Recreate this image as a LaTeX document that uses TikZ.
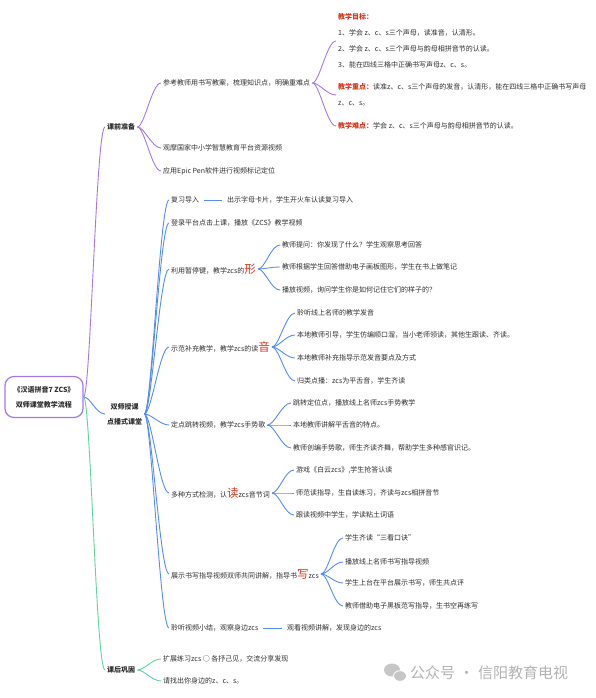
\documentclass[tikz,border=0pt]{standalone}
\usepackage{fontspec}
\setmainfont{Noto Sans CJK SC}
\definecolor{mindpurple}{RGB}{165,120,230}
\definecolor{mindblue}{RGB}{85,140,240}
\definecolor{mindgreen}{RGB}{95,210,160}
\definecolor{mindred}{RGB}{210,55,30}
\definecolor{mindtext}{RGB}{45,45,45}
\newcommand{\keychar}[1]{\textcolor{mindred}{\fontsize{11.5}{12}\selectfont #1}}
\newcommand{\redhead}[1]{\textcolor{mindred}{\bfseries #1}}
\tikzset{
  rootbox/.style={draw=mindpurple, line width=1.2pt, rounded corners=9pt,
    minimum width=78pt, minimum height=41pt, align=center, text=mindtext,
    font=\bfseries\fontsize{7}{15}\selectfont},
  topic/.style={anchor=west, inner sep=2pt, align=center, text=mindtext,
    font=\bfseries\fontsize{7}{15}\selectfont},
  leaf/.style={anchor=west, inner sep=2pt, text=mindtext, font=\fontsize{7}{8}\selectfont},
  leafblock/.style={leaf, align=left, font=\fontsize{7}{16}\selectfont},
  branch/.style={to path={.. controls +(7,0) and +(-9,0) .. (\tikztotarget)}},
  link/.style={shorten <=3pt, shorten >=3pt},
  purpleline/.style={draw=mindpurple, line width=0.9pt},
  blueline/.style={draw=mindblue, line width=0.9pt},
  greenline/.style={draw=mindgreen, line width=0.9pt}
}
\begin{document}
\begin{tikzpicture}[x=1pt,y=-1pt]
\useasboundingbox (0,0) rectangle (596,698);

% root and main topics
\node(root) at (44,397)[rootbox] {《汉语拼音7 ZCS》\\双师课堂教学流程};
\node(prep) at (105,127)[topic] {课前准备};
\node(dual) at (105,414)[topic] {双师授课\\点播式课堂};
\node(post) at (105,670)[topic] {课后巩固};

% before class
\node(ref) at (161,83)[leaf] {参考教师用书写教案，梳理知识点，明确重难点};
\node(observe) at (161,148)[leaf] {观摩国家中小学智慧教育平台资源视频};
\node(epic) at (161,171)[leaf] {应用Epic Pen软件进行视频标记定位};
\node(goal) at (336,41)[leafblock] {\redhead{教学目标：}\\1、学会 z、c、s三个声母，读准音，认清形。\\2、学会 z、c、s三个声母与韵母相拼音节的认读。\\3、能在四线三格中正确书写声母z、c、s。};
\node(focus) at (336,95)[leafblock] {\redhead{教学重点：}读准z、c、s三个声母的发音，认清形，能在四线三格中正确书写声母\\z、c、s。};
\node(hard) at (336,126)[leaf] {\redhead{教学难点：}学会 z、c、s三个声母与韵母相拼音节的认读。};

% in class
\node(review) at (169,200)[leaf] {复习导入};
\node(reviewtip) at (225,200)[leaf] {出示字母卡片，学生开火车认读复习导入};
\node(login) at (169,223)[leaf] {登录平台点击上课，播放《ZCS》教学视频};
\node(shape) at (169,269)[leaf] {利用暂停键，教学zcs的\keychar{形}};
\node(shapeA) at (280,245)[leaf] {教师提问：你发现了什么？学生观察思考回答};
\node(shapeB) at (280,267)[leaf] {教师根据学生回答借助电子画板图形，学生在书上做笔记};
\node(shapeC) at (280,290)[leaf] {播放视频，询问学生你是如何记住它们的样子的？};
\node(sound) at (169,347)[leaf] {示范补充教学，教学zcs的读\keychar{音}};
\node(soundA) at (295,313)[leaf] {聆听线上名师的教学发音};
\node(soundB) at (295,335)[leaf] {本地教师引导，学生仿编顺口溜，当小老师领读，其他生跟读、齐读。};
\node(soundC) at (295,358)[leaf] {本地教师补充指导示范发音要点及方式};
\node(soundD) at (295,381)[leaf] {归类点播：zcs为平舌音，学生齐读};
\node(gesture) at (169,425)[leaf] {定点跳转视频，教学zcs手势歌};
\node(gestureA) at (291,403)[leaf] {跳转定位点，播放线上名师zcs手势教学};
\node(gestureB) at (291,425)[leaf] {本地教师讲解平舌音的特点。};
\node(gestureC) at (291,448)[leaf] {教师创编手势歌，师生齐读齐舞，帮助学生多种感官识记。};
\node(read) at (169,493)[leaf] {多种方式检测，认\keychar{读}zcs音节词};
\node(readA) at (294,470)[leaf] {游戏《白云zcs》,学生抢答认读};
\node(readB) at (294,493)[leaf] {师范读指导，生自读练习，齐读与zcs相拼音节};
\node(readC) at (294,515)[leaf] {跟读视频中学生，学读粘土词语};
\node(write) at (169,574)[leaf] {展示书写指导视频双师共同讲解，指导书\keychar{写}zcs};
\node(writeA) at (343,538)[leaf] {学生齐读“三看口诀”};
\node(writeB) at (343,562)[leaf] {播放线上名师书写指导视频};
\node(writeC) at (343,583)[leaf] {学生上台在平台展示书写，师生共点评};
\node(writeD) at (343,606)[leaf] {教师借助电子黑板范写指导，生书空再练写};
\node(summary) at (169,628)[leaf] {聆听视频小结，观察身边zcs};
\node(summarytip) at (285,628)[leaf] {观看视频讲解，发现身边的zcs};

% after class
\node(extend) at (161,659)[leaf] {扩展练习zcs ○ 各抒己见，交流分享发现};
\node(find) at (161,681)[leaf] {请找出你身边的z、c、s。};

\path [purpleline]
  (root.east)  edge [branch] (prep.west)
  (prep.east)  edge [branch] (ref.west)
  (prep.east)  edge [branch] (observe.west)
  (prep.east)  edge [branch] (epic.west)
  (ref.east)   edge [branch] (goal.west)
  (ref.east)   edge [branch] (focus.west)
  (ref.east)   edge [branch] (hard.west);

\path [blueline]
  (root.east)  edge [branch] (dual.west)
  (dual.east)  edge [branch] (review.west)
  (dual.east)  edge [branch] (login.west)
  (dual.east)  edge [branch] (shape.west)
  (dual.east)  edge [branch] (sound.west)
  (dual.east)  edge [branch] (gesture.west)
  (dual.east)  edge [branch] (read.west)
  (dual.east)  edge [branch] (write.west)
  (dual.east)  edge [branch] (summary.west)
  (review.east)  edge [link] (reviewtip.west)
  (summary.east) edge [link] (summarytip.west)
  (shape.east) edge [branch] (shapeA.west)
  (shape.east) edge [branch] (shapeB.west)
  (shape.east) edge [branch] (shapeC.west)
  (sound.east) edge [branch] (soundA.west)
  (sound.east) edge [branch] (soundB.west)
  (sound.east) edge [branch] (soundC.west)
  (sound.east) edge [branch] (soundD.west)
  (gesture.east) edge [branch] (gestureA.west)
  (gesture.east) edge [branch] (gestureB.west)
  (gesture.east) edge [branch] (gestureC.west)
  (read.east)  edge [branch] (readA.west)
  (read.east)  edge [branch] (readB.west)
  (read.east)  edge [branch] (readC.west)
  (write.east) edge [branch] (writeA.west)
  (write.east) edge [branch] (writeB.west)
  (write.east) edge [branch] (writeC.west)
  (write.east) edge [branch] (writeD.west);

\path [greenline]
  (root.east)  edge [branch] (post.west)
  (post.east)  edge [branch] (extend.west)
  (post.east)  edge [branch] (find.west);

% watermark
\fill[gray!45] (392,670) ellipse [x radius=8, y radius=6.5];
\filldraw[gray!45, draw=white, line width=0.8pt] (400,676) ellipse [x radius=6.5, y radius=5.3];
\node(mark) at (410,673)[anchor=west, inner sep=0pt, text=gray!60,
  font=\fontsize{15}{15}\selectfont] {公众号\hspace{4pt}·\hspace{4pt}信阳教育电视};
\end{tikzpicture}
\end{document}
